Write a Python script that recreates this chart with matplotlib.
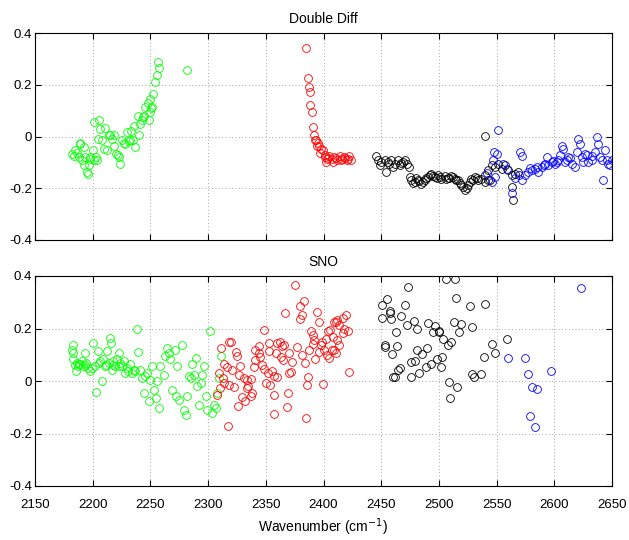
import matplotlib
matplotlib.use("Agg")
import matplotlib.pyplot as plt

plt.rcParams['font.family'] = ['Liberation Sans', 'DejaVu Sans']

# ---------------- Double Diff panel ----------------
dd_green_x = [2182.1, 2183.5, 2185.0, 2187.9, 2188.7, 2190.8, 2192.2, 2193.6, 2195.0, 2195.7,
              2196.5, 2198.0, 2200.3, 2200.9, 2201.0, 2203.0, 2204.6, 2205.2, 2206.6, 2208.0,
              2209.5, 2212.4, 2213.9, 2216.8, 2218.2, 2220.5, 2222.5, 2224.0, 2225.4, 2228.3,
              2229.8, 2231.2, 2233.2, 2235.0, 2236.0, 2237.0, 2239.0, 2241.3, 2242.8, 2244.2,
              2245.7, 2247.7, 2249.4, 2249.4, 2251.4, 2252.3, 2254.3, 2255.8, 2256.5, 2257.2,
              2281.8, 2186.4, 2189.3, 2192.2, 2198.0, 2211.0, 2215.3, 2218.2, 2226.9, 2232.7,
              2221.7, 2203.8, 2239.8, 2243.6, 2248.6, 2250.6]
dd_green_y = [-0.067, -0.077, -0.054, -0.079, -0.028, -0.092, -0.112, -0.079, -0.137, -0.144,
              -0.112, -0.086, -0.051, 0.055, -0.092, -0.079, -0.009, 0.062, 0.029, -0.015,
              -0.047, -0.054, 0.004, -0.009, -0.035, -0.067, -0.079, -0.105, -0.015, -0.028,
              0.017, -0.018, 0.023, -0.015, 0.042, -0.041, 0.081, 0.049, 0.062, 0.081,
              0.113, 0.128, 0.145, 0.094, 0.113, 0.164, 0.209, 0.237, 0.288, 0.264,
              0.256, -0.065, -0.027, -0.040, -0.078, 0.031, 0.005, 0.005, -0.027, -0.014,
              -0.072, -0.091, 0.005, 0.076, 0.063, 0.112]

dd_red_x = [2385.0, 2386.4, 2387.3, 2388.2, 2388.7, 2389.9, 2391.3, 2392.2, 2392.8, 2393.6,
            2394.0, 2395.0, 2396.5, 2398.0, 2399.4, 2400.9, 2402.3, 2403.0, 2405.0, 2407.0,
            2408.0, 2409.5, 2412.0, 2414.0, 2416.0, 2418.0, 2420.5, 2422.5, 2423.4, 2404.0,
            2410.5, 2415.0, 2419.0, 2421.5, 2397.0, 2401.5]
dd_red_y = [0.341, 0.227, 0.190, 0.171, 0.123, 0.096, 0.036, 0.004, -0.015, -0.012,
            -0.035, -0.024, -0.037, -0.047, -0.054, -0.073, -0.099, -0.086, -0.076, -0.088,
            -0.099, -0.079, -0.092, -0.076, -0.086, -0.079, -0.092, -0.076, -0.092, -0.082,
            -0.085, -0.090, -0.083, -0.087, -0.065, -0.080]

dd_black_x = [2445.7, 2447.0, 2450.0, 2452.9, 2454.3, 2456.4, 2458.7, 2461.6, 2464.5, 2467.3,
              2470.2, 2472.5, 2473.7, 2474.6, 2476.0, 2478.9, 2481.8, 2484.7, 2487.6, 2490.5,
              2493.4, 2496.2, 2499.1, 2502.0, 2504.9, 2507.8, 2510.7, 2513.6, 2516.5, 2519.4,
              2522.3, 2525.1, 2528.0, 2531.0, 2534.0, 2536.7, 2539.6, 2542.5, 2540.0, 2542.8,
              2545.7, 2548.6, 2551.4, 2554.3, 2557.2, 2560.0, 2563.0, 2565.9, 2568.8, 2563.6,
              2564.5, 2544.2, 2539.9, 2532.7, 2529.8, 2449.0, 2455.5, 2460.0, 2466.0, 2469.0,
              2477.5, 2480.5, 2483.0, 2486.0, 2489.0, 2492.0, 2495.0, 2498.0, 2501.0, 2506.5,
              2509.0, 2512.0, 2515.0, 2518.0, 2521.0, 2524.0, 2527.0]
dd_black_y = [-0.076, -0.092, -0.098, -0.089, -0.137, -0.105, -0.092, -0.107, -0.092, -0.102,
              -0.089, -0.107, -0.117, -0.156, -0.169, -0.175, -0.169, -0.182, -0.169, -0.156,
              -0.146, -0.156, -0.150, -0.163, -0.154, -0.159, -0.154, -0.163, -0.169, -0.188,
              -0.208, -0.188, -0.166, -0.156, -0.169, -0.163, -0.175, -0.169, 0.003, -0.130,
              -0.111, -0.118, -0.105, -0.124, -0.111, -0.130, -0.149, -0.143, -0.137, -0.194,
              -0.247, -0.168, -0.149, -0.162, -0.168, -0.110, -0.100, -0.118, -0.110, -0.100,
              -0.178, -0.160, -0.172, -0.176, -0.162, -0.150, -0.152, -0.160, -0.155, -0.166,
              -0.160, -0.158, -0.170, -0.178, -0.196, -0.198, -0.176]

dd_blue_x = [2542.0, 2545.7, 2547.0, 2548.0, 2548.6, 2550.0, 2550.9, 2555.8, 2558.7, 2563.0,
             2570.2, 2571.7, 2571.7, 2574.6, 2577.5, 2580.3, 2583.2, 2586.1, 2589.0, 2592.0,
             2593.4, 2594.8, 2597.7, 2600.6, 2603.5, 2605.0, 2606.4, 2607.8, 2609.2, 2612.1,
             2615.0, 2617.9, 2619.4, 2620.8, 2622.3, 2623.7, 2626.6, 2629.5, 2632.4, 2635.3,
             2636.7, 2638.2, 2639.6, 2642.5, 2644.0, 2645.4, 2646.8, 2649.7, 2566.0, 2569.0,
             2579.0, 2585.0, 2591.0, 2599.0, 2602.0, 2611.0, 2614.0, 2625.0, 2628.0, 2633.0,
             2641.0, 2648.0]
dd_blue_y = [-0.140, -0.175, -0.092, -0.060, -0.156, -0.067, 0.024, -0.105, -0.124, -0.219,
             -0.061, -0.077, -0.168, -0.149, -0.137, -0.130, -0.124, -0.137, -0.118, -0.105,
             -0.080, -0.111, -0.099, -0.105, -0.092, -0.073, -0.035, -0.048, -0.099, -0.080,
             -0.105, -0.118, -0.061, -0.010, -0.029, -0.080, -0.067, -0.099, -0.092, -0.061,
             -0.001, -0.029, -0.080, -0.168, -0.054, -0.092, -0.105, -0.092, -0.160, -0.150,
             -0.120, -0.118, -0.112, -0.095, -0.100, -0.090, -0.085, -0.100, -0.070, -0.075,
             -0.090, -0.110]

# ---------------- SNO panel ----------------
sno_green_x = [2183.1, 2181.7, 2182.6, 2183.1, 2186.0, 2187.5, 2185.5, 2189.0, 2190.4, 2191.9,
               2193.3, 2194.2, 2196.2, 2197.7, 2200.6, 2202.0, 2202.9, 2204.9, 2206.4, 2207.8,
               2209.3, 2210.8, 2212.2, 2213.7, 2215.1, 2215.7, 2216.6, 2218.0, 2219.5, 2220.9,
               2222.4, 2224.0, 2225.3, 2226.7, 2228.2, 2229.7, 2232.6, 2234.0, 2235.5, 2238.4,
               2239.2, 2241.3, 2242.7, 2244.2, 2247.1, 2248.5, 2250.0, 2251.5, 2253.0, 2255.2,
               2257.3, 2258.7, 2261.6, 2263.0, 2264.5, 2266.0, 2267.4, 2268.8, 2270.9, 2271.8,
               2273.3, 2274.7, 2277.6, 2279.0, 2280.5, 2282.0, 2283.4, 2284.9, 2286.3, 2287.8,
               2289.2, 2290.7, 2292.2, 2293.6, 2295.0, 2296.5, 2298.0, 2299.4, 2301.5, 2303.8,
               2305.2, 2306.7, 2308.1, 2309.6, 2311.0, 2184.5, 2188.0, 2193.0, 2199.0, 2205.5,
               2211.5, 2217.5, 2223.0, 2230.5, 2237.0, 2245.5, 2256.0]
sno_green_y = [0.139, 0.120, 0.107, 0.084, 0.069, 0.056, 0.037, 0.063, 0.075, 0.056,
               0.107, 0.069, 0.050, 0.037, 0.146, 0.056, -0.040, 0.114, 0.075, -0.001,
               0.082, 0.056, 0.114, 0.069, 0.165, 0.146, 0.043, 0.075, 0.056, 0.082,
               0.107, 0.069, 0.056, 0.075, 0.031, 0.050, 0.063, 0.031, 0.043, 0.197,
               0.111, 0.043, 0.011, -0.046, 0.031, -0.078, 0.005, 0.056, -0.033, -0.065,
               -0.103, 0.056, 0.024, 0.095, 0.126, 0.107, 0.082, -0.033, 0.120, -0.059,
               0.056, -0.072, 0.139, -0.110, -0.129, -0.059, 0.018, 0.011, 0.063, 0.024,
               0.088, -0.020, -0.091, -0.008, 0.024, 0.056, -0.059, -0.110, 0.190, -0.123,
               -0.091, -0.103, -0.046, 0.011, 0.095, 0.060, 0.065, 0.060, 0.050, 0.070,
               0.060, 0.062, 0.058, 0.040, 0.040, 0.020, 0.000]

sno_red_x = [2318.3, 2311.6, 2314.0, 2309.6, 2312.5, 2314.0, 2310.5, 2308.0, 2316.9, 2319.7,
             2324.0, 2325.0, 2316.8, 2321.0, 2328.0, 2326.9, 2318.0, 2322.5, 2334.0, 2337.0,
             2333.5, 2338.4, 2337.6, 2332.0, 2326.0, 2340.0, 2341.0, 2341.0, 2344.0, 2344.0,
             2347.0, 2348.5, 2353.0, 2353.0, 2352.0, 2355.0, 2357.0, 2360.0, 2350.0, 2354.0,
             2360.0, 2362.0, 2364.0, 2366.0, 2359.0, 2363.0, 2365.0, 2370.0, 2373.0, 2371.7,
             2370.0, 2357.0, 2369.0, 2384.7, 2386.7, 2385.5, 2383.8, 2387.6, 2389.0, 2390.5,
             2392.0, 2393.0, 2396.0, 2397.7, 2399.0, 2400.6, 2403.5, 2406.0, 2408.0, 2405.0,
             2403.0, 2410.7, 2413.6, 2416.5, 2421.0, 2412.0, 2413.6, 2409.0, 2410.7, 2399.7,
             2394.8, 2395.7, 2419.4, 2416.5, 2412.0, 2409.0, 2422.0, 2375.0, 2379.8, 2383.2,
             2381.2, 2379.5, 2366.8, 2348.6, 2357.2, 2368.2, 2329.0, 2331.0, 2335.0, 2345.0,
             2377.0, 2381.0, 2391.0, 2402.0, 2407.0, 2417.5]
sno_red_y = [0.148, 0.126, 0.063, 0.031, 0.011, -0.008, -0.027, -0.052, -0.171, 0.150,
             0.112, 0.096, 0.055, 0.042, 0.057, 0.023, -0.015, -0.022, 0.004, 0.006,
             -0.028, -0.047, -0.057, -0.075, -0.095, 0.055, 0.080, 0.118, 0.106, 0.134,
             0.061, 0.045, 0.144, 0.115, 0.030, 0.040, 0.019, 0.017, -0.009, -0.015,
             0.144, 0.150, 0.134, 0.138, 0.106, 0.090, 0.080, 0.108, 0.074, 0.036,
             0.032, -0.054, -0.045, -0.140, 0.014, -0.015, 0.068, 0.118, 0.189, 0.176,
             0.157, 0.083, 0.112, 0.138, 0.150, 0.118, 0.189, 0.195, 0.169, 0.087,
             0.099, 0.223, 0.214, 0.182, 0.189, 0.157, 0.138, 0.118, 0.106, -0.013,
             0.261, 0.223, 0.250, 0.239, 0.233, 0.223, 0.036, 0.367, 0.287, 0.304,
             0.252, 0.237, 0.259, 0.195, -0.126, -0.098, -0.060, 0.010, -0.020, 0.090,
             0.130, 0.100, 0.140, 0.160, 0.120, 0.200]

sno_black_x = [2473.1, 2506.4, 2514.2, 2455.2, 2450.6, 2457.2, 2458.0, 2450.6, 2458.5, 2470.8,
               2467.3, 2478.3, 2472.0, 2480.6, 2462.7, 2452.9, 2453.5, 2463.9, 2459.5, 2481.2,
               2489.6, 2485.3, 2478.9, 2476.0, 2490.5, 2496.8, 2494.8, 2499.7, 2500.5, 2503.5,
               2507.8, 2510.7, 2502.6, 2498.6, 2493.4, 2488.4, 2482.4, 2475.4, 2465.9, 2464.5,
               2461.6, 2460.1, 2501.4, 2508.7, 2515.9, 2509.8, 2515.0, 2526.6, 2540.2, 2513.0,
               2518.8, 2517.6, 2528.3, 2546.0, 2548.8, 2539.0, 2559.2, 2528.9, 2530.3, 2536.7]
sno_black_y = [0.359, 0.387, 0.387, 0.313, 0.288, 0.266, 0.260, 0.240, 0.238, 0.288,
               0.247, 0.230, 0.212, 0.199, 0.187, 0.129, 0.136, 0.132, 0.102, 0.119,
               0.125, 0.104, 0.077, 0.072, 0.221, 0.211, 0.187, 0.192, 0.185, 0.160,
               0.138, 0.147, 0.090, 0.083, 0.064, 0.055, 0.032, 0.017, 0.049, 0.042,
               0.017, 0.014, 0.052, -0.003, -0.022, -0.063, 0.317, 0.285, 0.294, 0.224,
               0.219, 0.185, 0.205, 0.142, 0.106, 0.092, 0.160, 0.026, 0.017, 0.027]

sno_blue_x = [2559.8, 2574.9, 2577.0, 2596.8, 2581.0, 2585.0, 2579.0, 2583.5, 2622.8]
sno_blue_y = [0.086, 0.086, 0.026, 0.038, -0.022, -0.031, -0.134, -0.175, 0.354]

xticks = [2150, 2200, 2250, 2300, 2350, 2400, 2450, 2500, 2550, 2600, 2650]
yticks = [-0.4, -0.2, 0, 0.2, 0.4]
ytick_labels = ['-0.4', '-0.2', '0', '0.2', '0.4']

fig = plt.figure(figsize=(6.29, 5.40), dpi=100)
ax1 = fig.add_axes([35/629, 1-240/540, 577/629, 207/540])
ax2 = fig.add_axes([35/629, 1-486/540, 577/629, 210/540])

mk = dict(marker='o', linestyle='none', markerfacecolor='none', markersize=5.6, markeredgewidth=0.6)

ax1.plot(dd_green_x, dd_green_y, markeredgecolor='#00ff00', **mk)
ax1.plot(dd_red_x, dd_red_y, markeredgecolor='#ff0000', **mk)
ax1.plot(dd_black_x, dd_black_y, markeredgecolor='#000000', **mk)
ax1.plot(dd_blue_x, dd_blue_y, markeredgecolor='#0000ff', **mk)

ax2.plot(sno_green_x, sno_green_y, markeredgecolor='#00ff00', **mk)
ax2.plot(sno_red_x, sno_red_y, markeredgecolor='#ff0000', **mk)
ax2.plot(sno_black_x, sno_black_y, markeredgecolor='#000000', **mk)
ax2.plot(sno_blue_x, sno_blue_y, markeredgecolor='#0000ff', **mk)

for ax, title in [(ax1, 'Double Diff'), (ax2, 'SNO')]:
    ax.set_xlim(2150, 2650)
    ax.set_ylim(-0.4, 0.4)
    ax.set_xticks(xticks)
    ax.set_yticks(yticks)
    ax.set_yticklabels(ytick_labels)
    ax.grid(True, linestyle=(0, (1, 3)), color='#888888', linewidth=0.6)
    ax.tick_params(direction='in', top=True, right=True, length=4, width=0.8, labelsize=9.5)
    ax.tick_params(axis='y', pad=2)
    ax.tick_params(axis='x', pad=9)
    for s in ax.spines.values():
        s.set_linewidth(0.8)
    ax.set_title(title, fontsize=10, pad=7)

ax1.set_xticklabels([])
ax2.set_xticklabels([str(t) for t in xticks])
ax2.set_xlabel('Wavenumber (cm$^{-1}$)', fontsize=10, labelpad=4)

fig.savefig('out.png', dpi=100)
